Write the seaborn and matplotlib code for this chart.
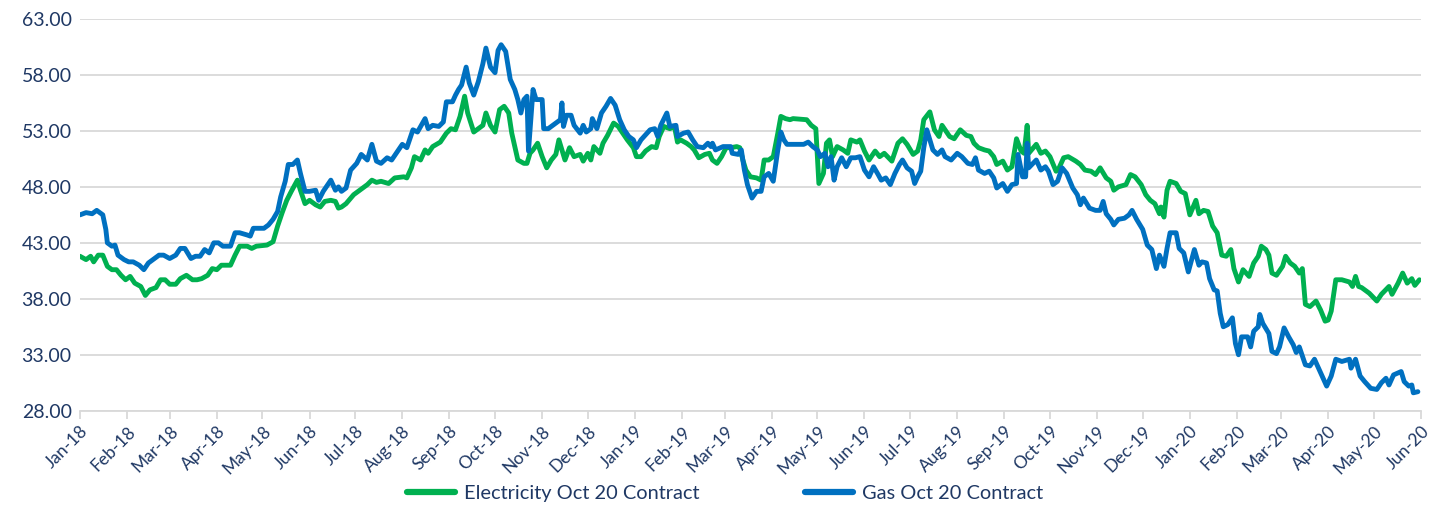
import numpy as np
import pandas as pd
import matplotlib
matplotlib.use("Agg")
import matplotlib.pyplot as plt
import matplotlib.dates as mdates
import seaborn as sns

START = "2018-01-01"

elec_days = [0, 4, 7, 9, 12, 15, 18, 21, 24, 27, 30, 33, 36, 40, 43, 46, 50, 53, 56, 59,
             63, 66, 70, 74, 77, 80, 84, 87, 90, 93, 99, 102, 105, 110, 113, 116, 123, 127, 130, 133,
             136, 139, 143, 145, 148, 151, 155, 158, 161, 165, 168, 170, 172, 175, 180, 184, 189, 192, 195, 198,
             203, 207, 213, 215, 218, 220, 224, 227, 229, 232, 237, 241, 244, 247, 250, 253, 255, 259, 262, 265,
             267, 270, 273, 276, 279, 282, 284, 286, 288, 292, 294, 296, 298, 301, 304, 307, 310, 313, 315, 319,
             322, 325, 329, 331, 334, 336, 338, 342, 344, 347, 351, 354, 357, 360, 364, 366, 369, 372, 376, 379,
             381, 384, 388, 391, 393, 395, 399, 402, 404, 407, 411, 414, 416, 419, 422, 425, 428, 432, 434, 436,
             438, 441, 445, 448, 450, 453, 456, 459, 461, 464, 467, 469, 478, 481, 484, 486, 489, 491, 493, 495,
             498, 502, 505, 507, 511, 513, 516, 519, 523, 526, 529, 534, 538, 541, 544, 548, 551, 553, 555, 559,
             562, 565, 567, 572, 575, 579, 583, 586, 588, 591, 595, 598, 601, 603, 607, 610, 613, 616, 619, 621,
             623, 624, 629, 632, 635, 638, 642, 644, 647, 650, 655, 658, 661, 665, 668, 671, 675, 678, 680, 683,
             688, 691, 694, 698, 701, 704, 707, 710, 711, 713, 715, 717, 721, 724, 727, 730, 734, 736, 739, 742,
             745, 748, 751, 754, 757, 759, 762, 765, 769, 772, 775, 777, 780, 782, 784, 787, 791, 793, 796, 799,
             802, 804, 806, 809, 813, 816, 819, 821, 823, 826, 830, 835, 837, 839, 841, 843, 848, 853, 856, 861,
             863, 867, 870, 873, 876, 878, 881]
elec_vals = [41.8, 41.5, 41.8, 41.3, 41.9, 41.9, 40.9, 40.6, 40.6, 40.1, 39.7, 40.0, 39.4, 39.1, 38.3, 38.8, 39.0, 39.7, 39.7, 39.3,
             39.3, 39.8, 40.1, 39.7, 39.7, 39.8, 40.1, 40.7, 40.6, 41.0, 41.0, 41.9, 42.7, 42.7, 42.5, 42.7, 42.8, 43.1, 44.5, 45.7,
             46.8, 47.6, 48.6, 47.7, 46.5, 46.8, 46.4, 46.2, 46.7, 46.8, 46.7, 46.1, 46.2, 46.5, 47.3, 47.7, 48.2, 48.6, 48.4, 48.5,
             48.3, 48.8, 48.9, 48.8, 49.7, 50.7, 50.4, 51.3, 51.0, 51.6, 52.0, 52.8, 53.2, 53.1, 54.3, 56.1, 54.6, 52.9, 53.2, 53.5,
             54.6, 53.5, 52.9, 54.9, 55.2, 54.6, 52.8, 51.6, 50.4, 50.1, 50.1, 51.0, 51.3, 51.9, 50.7, 49.7, 50.4, 50.9, 52.2, 50.4,
             51.5, 50.7, 50.9, 50.3, 51.0, 50.4, 51.6, 51.0, 51.9, 52.6, 53.7, 53.4, 52.8, 52.2, 51.5, 50.7, 50.7, 51.2, 51.6, 51.5,
             52.5, 53.4, 53.2, 53.4, 52.0, 52.2, 51.9, 51.6, 51.3, 50.6, 50.9, 51.0, 50.4, 50.1, 50.7, 51.5, 51.5, 51.6, 51.5, 50.4,
             49.5, 48.9, 48.8, 48.6, 50.4, 50.4, 50.7, 52.8, 54.3, 54.1, 54.0, 54.1, 54.0, 53.5, 53.2, 48.3, 49.2, 51.9, 52.2, 50.7,
             51.6, 51.3, 51.0, 52.2, 52.0, 52.2, 51.2, 50.4, 51.2, 50.7, 51.0, 50.3, 51.9, 52.3, 51.8, 50.9, 51.2, 52.2, 54.0, 54.7,
             53.1, 52.5, 53.5, 52.5, 52.3, 53.1, 52.6, 52.5, 51.9, 51.5, 51.3, 51.2, 50.7, 50.0, 50.3, 49.5, 49.8, 52.3, 51.2, 51.0,
             53.5, 51.0, 51.8, 51.0, 51.2, 50.7, 49.4, 49.7, 50.6, 50.7, 50.3, 50.0, 49.5, 49.4, 49.1, 49.7, 48.8, 48.5, 47.7, 48.0,
             48.2, 49.1, 48.9, 48.2, 47.3, 46.8, 46.5, 45.6, 46.2, 45.3, 47.7, 48.5, 48.3, 47.6, 47.4, 45.5, 46.8, 45.6, 45.9, 45.8,
             44.5, 43.9, 41.9, 41.8, 42.4, 40.7, 39.5, 40.6, 40.0, 41.2, 41.8, 42.7, 42.4, 41.9, 40.3, 40.1, 40.9, 41.8, 41.2, 40.9,
             40.3, 40.7, 37.5, 37.3, 37.8, 37.0, 36.0, 36.1, 36.9, 39.7, 39.7, 39.5, 39.1, 40.0, 39.1, 39.0, 38.5, 37.8, 38.4, 39.1,
             38.4, 39.4, 40.3, 39.4, 39.8, 39.2, 39.7]

gas_days = [0, 4, 8, 11, 15, 17, 18, 21, 23, 25, 29, 32, 35, 39, 42, 45, 48, 52, 55, 59,
            63, 66, 69, 73, 76, 79, 82, 85, 88, 91, 94, 99, 102, 105, 110, 112, 114, 117, 121, 124,
            127, 130, 132, 135, 137, 140, 143, 145, 148, 151, 155, 157, 160, 165, 168, 170, 172, 175, 178, 182,
            185, 189, 192, 195, 198, 202, 205, 208, 212, 215, 219, 222, 227, 229, 232, 236, 239, 241, 245, 247,
            249, 251, 254, 256, 259, 262, 265, 267, 270, 273, 275, 277, 280, 283, 286, 288, 290, 292, 294, 295,
            298, 300, 304, 305, 308, 311, 316, 317, 318, 320, 323, 325, 329, 331, 333, 336, 337, 340, 343, 346,
            349, 352, 355, 358, 361, 364, 366, 369, 371, 375, 378, 380, 382, 386, 388, 392, 393, 397, 400, 403,
            406, 410, 413, 415, 416, 418, 423, 428, 429, 433, 435, 437, 439, 442, 445, 448, 450, 453, 456, 459,
            461, 463, 465, 476, 479, 482, 485, 487, 490, 492, 494, 496, 498, 501, 504, 507, 510, 513, 516, 519,
            522, 525, 527, 530, 533, 536, 539, 541, 544, 547, 549, 551, 553, 555, 557, 561, 564, 567, 569, 573,
            577, 580, 584, 587, 589, 591, 595, 598, 601, 603, 607, 610, 613, 616, 617, 620, 622, 623, 624, 629,
            632, 635, 637, 640, 643, 646, 649, 653, 656, 658, 660, 664, 668, 671, 673, 675, 678, 680, 683, 687,
            690, 692, 695, 699, 702, 705, 708, 710, 713, 715, 717, 721, 723, 726, 729, 733, 736, 738, 741, 743,
            746, 748, 750, 752, 755, 758, 760, 762, 764, 768, 770, 772, 775, 776, 778, 782, 784, 787, 789, 792,
            795, 798, 800, 802, 806, 809, 812, 816, 820, 823, 826, 830, 835, 836, 839, 842, 845, 849, 853, 856,
            859, 861, 864, 869, 871, 874, 876, 877, 880]
gas_vals = [45.5, 45.7, 45.6, 45.9, 45.5, 44.2, 43.0, 42.7, 42.8, 41.9, 41.5, 41.3, 41.3, 41.0, 40.6, 41.2, 41.5, 41.9, 41.9, 41.6,
            41.9, 42.5, 42.5, 41.6, 41.8, 41.8, 42.4, 42.1, 43.0, 43.0, 42.7, 42.7, 43.9, 43.9, 43.7, 43.6, 44.3, 44.3, 44.3, 44.6,
            45.1, 45.8, 47.1, 48.5, 50.0, 50.0, 50.4, 49.2, 47.6, 47.6, 47.7, 46.8, 47.6, 48.6, 47.7, 48.0, 47.6, 47.9, 49.5, 50.1,
            50.9, 50.4, 51.8, 50.3, 50.1, 50.6, 50.4, 51.0, 51.8, 51.5, 53.1, 52.9, 54.1, 53.2, 53.5, 53.4, 53.8, 55.6, 55.6, 56.2,
            56.7, 57.1, 58.7, 57.3, 56.2, 57.4, 59.0, 60.4, 58.7, 58.2, 60.2, 60.7, 60.1, 57.6, 56.7, 55.8, 54.6, 55.8, 56.1, 51.2,
            56.7, 55.8, 55.8, 53.2, 53.2, 53.5, 54.0, 55.5, 53.4, 54.4, 54.4, 53.5, 52.8, 53.5, 52.9, 53.2, 54.1, 53.2, 54.6, 55.2,
            55.9, 55.3, 54.0, 53.1, 52.5, 52.2, 51.5, 52.2, 52.5, 53.1, 53.2, 52.5, 53.5, 54.6, 53.4, 53.5, 52.5, 52.8, 52.9, 52.2,
            51.6, 51.5, 51.9, 51.6, 51.9, 51.3, 51.6, 51.6, 51.0, 50.9, 51.3, 49.5, 48.2, 47.0, 47.6, 47.6, 48.9, 49.2, 48.5, 51.3,
            52.9, 52.2, 51.8, 51.8, 52.0, 51.6, 51.3, 50.7, 51.0, 49.8, 50.7, 48.6, 49.8, 50.6, 49.8, 50.6, 50.6, 50.7, 49.5, 48.9,
            49.8, 49.1, 48.6, 48.8, 48.2, 49.2, 50.0, 50.4, 49.7, 49.4, 48.3, 48.9, 49.4, 51.5, 53.1, 51.3, 50.9, 51.3, 50.7, 50.4,
            51.0, 50.7, 50.1, 50.0, 50.6, 49.5, 49.2, 49.4, 48.8, 47.9, 48.3, 47.6, 48.2, 48.3, 50.9, 48.9, 48.9, 51.9, 49.7, 50.4,
            49.5, 49.8, 49.4, 48.2, 48.5, 49.7, 49.2, 47.9, 47.3, 46.4, 47.0, 46.1, 45.9, 45.9, 46.7, 45.6, 45.1, 44.6, 45.1, 45.2,
            45.5, 45.9, 45.1, 44.2, 42.8, 42.4, 40.7, 41.9, 40.9, 42.5, 43.9, 43.9, 42.5, 42.1, 40.4, 42.4, 41.0, 41.3, 41.2, 39.8,
            38.8, 38.7, 36.7, 35.5, 35.7, 36.3, 34.0, 33.0, 34.6, 34.6, 33.7, 35.1, 35.5, 36.6, 35.8, 34.9, 33.3, 33.1, 33.7, 35.4,
            34.6, 33.9, 33.2, 33.7, 32.1, 32.0, 32.6, 31.4, 30.2, 31.1, 32.6, 32.4, 32.6, 31.8, 32.6, 31.1, 30.6, 30.0, 29.9, 30.5,
            30.9, 30.3, 31.2, 31.5, 30.6, 30.2, 30.3, 29.6, 29.7]

series_names = ["Electricity Oct 20 Contract", "Gas Oct 20 Contract"]
series_colors = ["#00B050", "#0070C0"]
y_ticks = [28, 33, 38, 43, 48, 53, 58, 63]

start = pd.Timestamp(START)
df_e = pd.DataFrame({"date": start + pd.to_timedelta(elec_days, unit="D"), "value": elec_vals,
                     "series": series_names[0]})
df_g = pd.DataFrame({"date": start + pd.to_timedelta(gas_days, unit="D"), "value": gas_vals,
                     "series": series_names[1]})
df = pd.concat([df_e, df_g], ignore_index=True)

sns.set_theme(style="white")
plt.rcParams["font.family"] = ["Lato", "DejaVu Sans"]
navy = "#1F3864"

fig = plt.figure(figsize=(14.36, 5.05), dpi=100)
ax = fig.add_axes([0.0557, 0.1867, 0.9338, 0.7757])

sns.lineplot(data=df, x="date", y="value", hue="series", palette=series_colors,
             hue_order=series_names, linewidth=3.5, ax=ax, legend=True, estimator=None,
             sort=False)

ax.set_ylim(28, 63)
ax.set_xlim(pd.Timestamp("2018-01-01"), pd.Timestamp("2020-06-01"))
ax.set_yticks(y_ticks)
ax.set_yticklabels([f"{v:.2f}" for v in y_ticks])
ax.xaxis.set_major_locator(mdates.MonthLocator())
ax.xaxis.set_major_formatter(mdates.DateFormatter("%b-%y"))
ax.grid(axis="y", color="#D9D9D9", linewidth=1.3)
ax.grid(axis="x", visible=False)
ax.set_axisbelow(True)
for s in ["left", "right", "top"]:
    ax.spines[s].set_visible(False)
ax.spines["bottom"].set_color("#D9D9D9")
ax.spines["bottom"].set_linewidth(1.3)
ax.tick_params(axis="y", length=0, labelsize=14, labelcolor=navy, pad=6)
ax.tick_params(axis="x", length=6, width=1.3, color="#D9D9D9", labelsize=12.5,
               labelcolor=navy, direction="out", bottom=True, pad=3)
for lbl in ax.get_xticklabels():
    lbl.set_rotation(45)
    lbl.set_ha("right")
    lbl.set_rotation_mode("anchor")
ax.set_xlabel("")
ax.set_ylabel("")

handles, labels = ax.get_legend_handles_labels()
ax.legend_.remove()
leg = fig.legend(handles, labels, loc="lower center", bbox_to_anchor=(0.505, -0.03), ncol=2,
                 frameon=False, fontsize=14.4, handlelength=2.4, columnspacing=5.3,
                 handletextpad=0.45)
for t in leg.get_texts():
    t.set_color(navy)
for h in leg.legend_handles:
    h.set_linewidth(4.5)

fig.savefig("out.png", dpi=100)
